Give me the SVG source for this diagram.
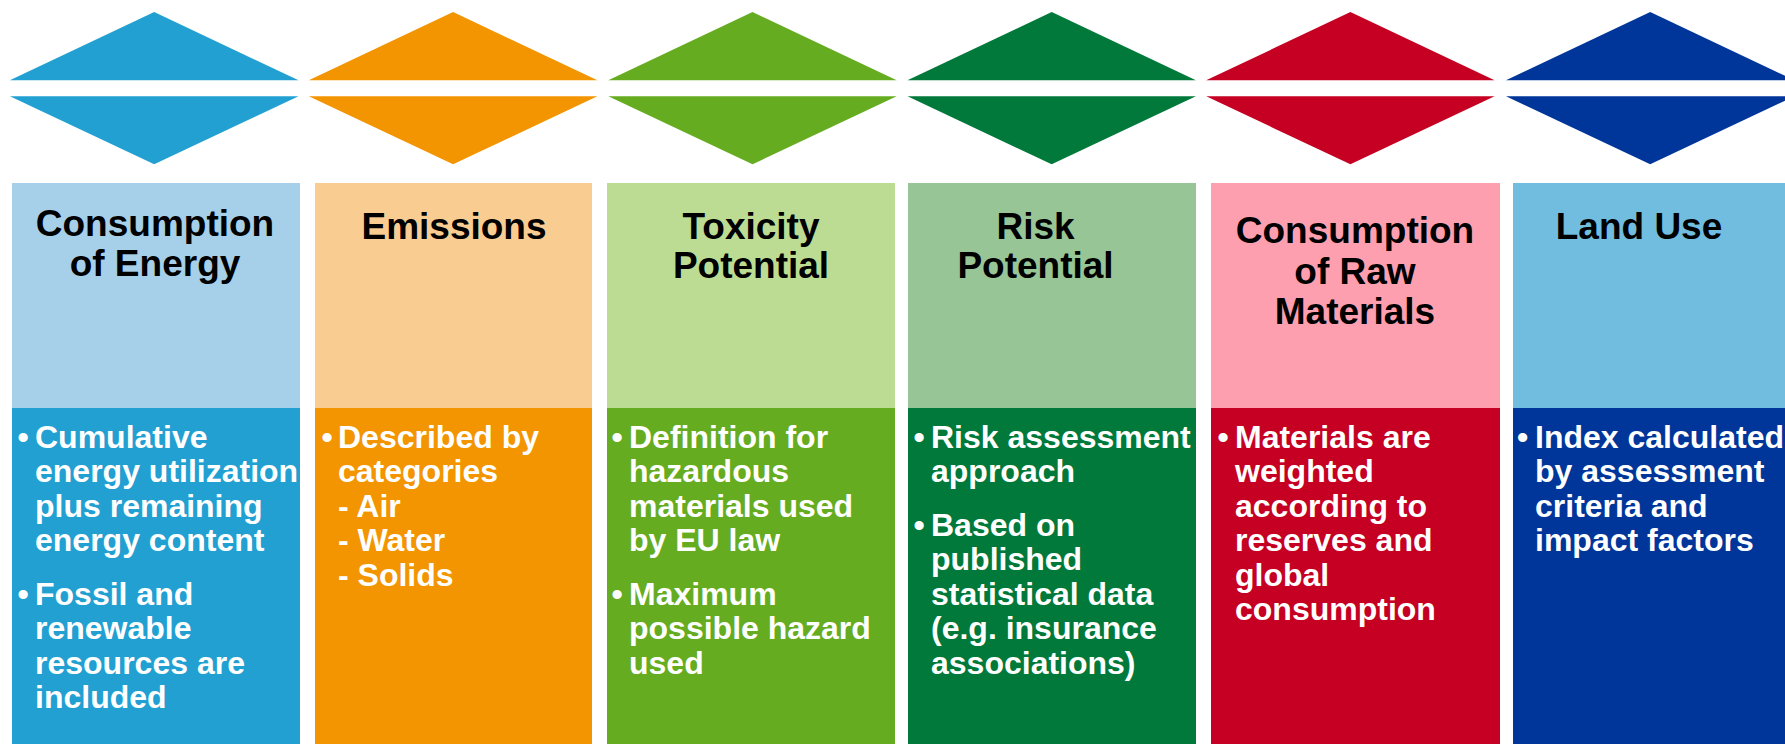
<svg xmlns="http://www.w3.org/2000/svg" width="1785" height="744" viewBox="0 0 1785 744">
<style>
.h{font-family:"Liberation Sans",Arial,sans-serif;font-weight:bold;font-size:37px;fill:#000;text-anchor:middle}
.b{font-family:"Liberation Sans",Arial,sans-serif;font-weight:bold;font-size:32px;fill:#fff}
.bu{font-family:"Liberation Sans",Arial,sans-serif;font-weight:bold;font-size:32px;fill:#fff;text-anchor:middle}
</style>
<rect width="1785" height="744" fill="#fff"/>
<g id="diamonds">
<g id="d1" fill="#22A0D2"><polygon points="9.9,80.3 154.2,12 298.5,80.3"/><polygon points="9.9,96.3 154.2,164.3 298.5,96.3"/></g>
<g id="d2" fill="#F39500"><polygon points="308.8,80.3 453.1,12 597.4,80.3"/><polygon points="308.8,96.3 453.1,164.3 597.4,96.3"/></g>
<g id="d3" fill="#66AC21"><polygon points="608.3,80.3 752.5,12 896.7,80.3"/><polygon points="608.3,96.3 752.5,164.3 896.7,96.3"/></g>
<g id="d4" fill="#00793A"><polygon points="907.5,80.3 1051.7,12 1195.9,80.3"/><polygon points="907.5,96.3 1051.7,164.3 1195.9,96.3"/></g>
<g id="d5" fill="#C50022"><polygon points="1206.2,80.3 1350.4,12 1494.6,80.3"/><polygon points="1206.2,96.3 1350.4,164.3 1494.6,96.3"/></g>
<g id="d6" fill="#00359A"><polygon points="1506,80.3 1650.2,12 1794.4,80.3"/><polygon points="1506,96.3 1650.2,164.3 1794.4,96.3"/></g>
</g>
<g id="col1">
<rect x="12" y="183" width="288" height="225" fill="#A6CFEA"/>
<rect x="12" y="408" width="288" height="336" fill="#22A0D2"/>
<text class="h" x="155" y="235.7">Consumption</text>
<text class="h" x="155" y="276">of Energy</text>
<text class="bu" x="23" y="447.5">•</text>
<text class="b" x="35" y="447.5">Cumulative</text>
<text class="b" x="35" y="482">energy utilization</text>
<text class="b" x="35" y="516.5">plus remaining</text>
<text class="b" x="35" y="551">energy content</text>
<text class="bu" x="23" y="604.5">•</text>
<text class="b" x="35" y="604.5">Fossil and</text>
<text class="b" x="35" y="639">renewable</text>
<text class="b" x="35" y="673.5">resources are</text>
<text class="b" x="35" y="708">included</text>
</g>
<g id="col2">
<rect x="315" y="183" width="277" height="225" fill="#F9CD91"/>
<rect x="315" y="408" width="277" height="336" fill="#F39500"/>
<text class="h" x="454" y="239">Emissions</text>
<text class="bu" x="327" y="447.5">•</text>
<text class="b" x="338" y="447.5">Described by</text>
<text class="b" x="338" y="482">categories</text>
<text class="b" x="338" y="516.5">- Air</text>
<text class="b" x="338" y="551">- Water</text>
<text class="b" x="338" y="585.5">- Solids</text>
</g>
<g id="col3">
<rect x="607" y="183" width="288" height="225" fill="#BCDC93"/>
<rect x="607" y="408" width="288" height="336" fill="#66AC21"/>
<text class="h" x="751" y="239">Toxicity</text>
<text class="h" x="751" y="278.3">Potential</text>
<text class="bu" x="617" y="447.5">•</text>
<text class="b" x="629" y="447.5">Definition for</text>
<text class="b" x="629" y="482">hazardous</text>
<text class="b" x="629" y="516.5">materials used</text>
<text class="b" x="629" y="551">by EU law</text>
<text class="bu" x="617" y="604.5">•</text>
<text class="b" x="629" y="604.5">Maximum</text>
<text class="b" x="629" y="639">possible hazard</text>
<text class="b" x="629" y="673.5">used</text>
</g>
<g id="col4">
<rect x="908" y="183" width="288" height="225" fill="#98C595"/>
<rect x="908" y="408" width="288" height="336" fill="#00793A"/>
<text class="h" x="1035.5" y="239">Risk</text>
<text class="h" x="1035.5" y="278.3">Potential</text>
<text class="bu" x="919" y="447.5">•</text>
<text class="b" x="931" y="447.5">Risk assessment</text>
<text class="b" x="931" y="482">approach</text>
<text class="bu" x="919" y="535.5">•</text>
<text class="b" x="931" y="535.5">Based on</text>
<text class="b" x="931" y="570">published</text>
<text class="b" x="931" y="604.5">statistical data</text>
<text class="b" x="931" y="639">(e.g. insurance</text>
<text class="b" x="931" y="673.5">associations)</text>
</g>
<g id="col5">
<rect x="1211" y="183" width="289" height="225" fill="#FD9FAF"/>
<rect x="1211" y="408" width="289" height="336" fill="#C50022"/>
<text class="h" x="1355" y="243.3">Consumption</text>
<text class="h" x="1355" y="283.6">of Raw</text>
<text class="h" x="1355" y="324">Materials</text>
<text class="bu" x="1223" y="447.5">•</text>
<text class="b" x="1235" y="447.5">Materials are</text>
<text class="b" x="1235" y="482">weighted</text>
<text class="b" x="1235" y="516.5">according to</text>
<text class="b" x="1235" y="551">reserves and</text>
<text class="b" x="1235" y="585.5">global</text>
<text class="b" x="1235" y="620">consumption</text>
</g>
<g id="col6">
<rect x="1513" y="183" width="272" height="225" fill="#70BDE0"/>
<rect x="1513" y="408" width="272" height="336" fill="#00359A"/>
<text class="h" x="1639" y="238.5">Land Use</text>
<text class="bu" x="1522.5" y="447.5">•</text>
<text class="b" x="1535" y="447.5">Index calculated</text>
<text class="b" x="1535" y="482">by assessment</text>
<text class="b" x="1535" y="516.5">criteria and</text>
<text class="b" x="1535" y="551">impact factors</text>
</g>
<g id="connectors"/>
</svg>
